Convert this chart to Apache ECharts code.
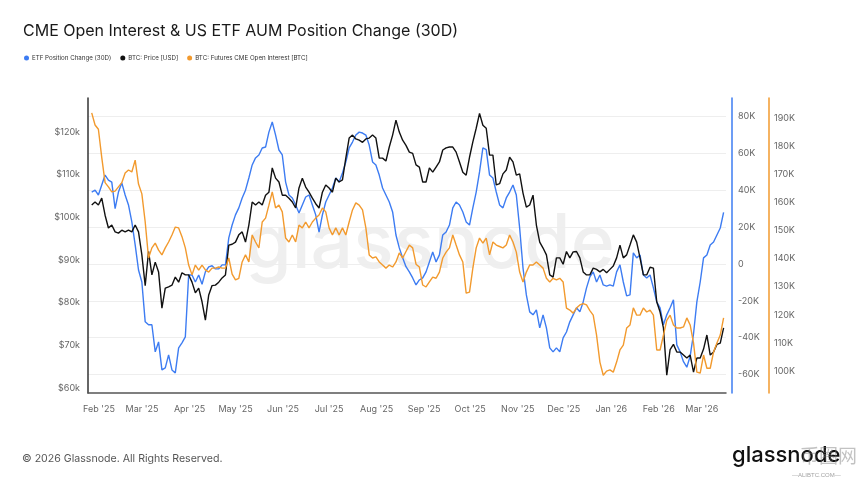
<!DOCTYPE html>
<html>
<head>
<meta charset="utf-8">
<title>CME Open Interest & US ETF AUM Position Change (30D)</title>
<script src="https://cdn.jsdelivr.net/npm/echarts@6.0.0/dist/echarts.min.js"></script>
<style>
  html, body { margin: 0; padding: 0; background: #fff; }
  #chart { width: 860px; height: 484px; }
</style>
</head>
<body>
<div id="chart"></div>
<script>
var dom = document.getElementById("chart");
var myChart = echarts.init(dom);

// samples on an even grid, ~2.18 days apart
var sampleStart = Date.UTC(2025, 0, 27, 5);
var sampleStepDays = 2.18;

// ETF position change (30D), thousand BTC
var etfChange = [
  39, 40, 37.4, 42.8, 48.2, 45.5, 44.4, 30, 39, 44,
  37.4, 32, 22.8, 10.3, -3.3, -9.8, -31.4, -33, -33, -47.7,
  -42.3, -57.5, -56.4, -49.3, -57.5, -59.1, -45.5, -42.8, -39.6, -6,
  -6, -9.8, -6, -11, -4.3, -1.6, -1, -2.7, -2.7, -0.5,
  -0.5, 14.1, 21.1, 26.6, 30.4, 35.8, 40, 46.6, 53.7, 57.5,
  59.1, 62.9, 63.4, 71.5, 77, 69.9, 61.8, 59.1, 44.4, 37.4,
  35.8, 32, 27.6, 32, 36.3, 37.4, 32, 26.6, 17.3, 26.6,
  33.6, 37.4, 41.2, 46.6, 44.4, 49.3, 55.3, 62.9, 66.1, 69.9,
  71.5, 71, 69.9, 64.5, 55.3, 53.7, 48.2, 41.2, 37.4, 33.6,
  28.2, 15.7, 8.7, 3.3, -1.5, -4.3, -7.6, -11.4, -8.7, -7.6,
  -4.3, 1.1, 6.5, 1.1, 4.9, 15.7, 17.3, 21.1, 30.4, 33.6,
  32, 28.2, 22.8, 21.1, 30.4, 39, 49.9, 62.9, 62, 48.2,
  46.6, 39, 32, 30.4, 35.8, 39, 42.8, 37.4, 19.5, -2.2,
  -16.8, -26, -27.6, -24.9, -34.7, -27.6, -34.7, -45.5, -47.7, -45.5,
  -47.7, -40.1, -36.9, -31.4, -27.6, -23.8, -26, -20.6, -13, -7,
  -4.3, -9.8, -6, -11.4, -12, -11.4, -12, -4.3, -0.5, -9.8,
  -17.3, -16.8, 6, 3.3, 4.9, -6, -7.6, -6, -13, -20.6,
  -23.8, -33, -27.6, -23.8, -19.5, -43.9, -47.7, -53, -56, -50,
  -38, -20.6, -9.8, 3.3, 4.9, 10.3, 11.9, 15.7, 19.5, 28
];

// BTC price, thousand USD
var btcPrice = [
  102.9, 103.6, 102.9, 104.5, 100.5, 97.5, 98.2, 96.6, 96.3, 97,
  96.6, 97, 96.6, 98.2, 96.6, 91.2, 84, 92, 86.5, 89.5,
  87.2, 78.7, 83.4, 83.7, 84.1, 86, 84.8, 87, 86.5, 86.5,
  84.8, 82.3, 83.4, 80.2, 75.9, 81.8, 84, 84.1, 84.8, 85.8,
  86.5, 93.5, 93.7, 94.2, 95.9, 96.6, 94.2, 98.2, 103.6, 102.9,
  103.6, 102.9, 105.2, 105.9, 111.6, 109.2, 108.3, 105.2, 105.2, 104.5,
  103.6, 102.2, 106.9, 109.2, 107.1, 105.9, 104.5, 103.2, 102.2, 105.9,
  107.6, 106.9, 105.9, 109.2, 108.3, 108.8, 113.9, 118.6, 119.3, 118.4,
  118.1, 117.6, 118.4, 118.6, 119.3, 118.6, 113.9, 113.9, 113.2, 116.5,
  119.3, 122.8, 120, 118.1, 116.9, 115.3, 115, 112.3, 111.8, 108.3,
  108.3, 111.6, 110.6, 111.8, 113, 115.8, 116.3, 116.5, 116.5, 115.3,
  113, 110.6, 109.9, 114.1, 117.7, 120.9, 124.4, 121.6, 120.9, 114.6,
  114.6, 107.6, 107.9, 110.2, 111.1, 114.1, 113, 109.9, 110.2, 105.7,
  102.4, 102.9, 105.2, 98.2, 94.2, 92.8, 91.2, 86.5, 86, 90.5,
  90.5, 89, 92, 90.5, 91.9, 92, 90.5, 87.2, 86.5, 86.5,
  88.1, 87.8, 87.2, 87.8, 87, 87.8, 88.6, 90.5, 93.5, 90.5,
  91.2, 93.5, 95.9, 94.2, 90.5, 86.5, 86.5, 88.3, 88.1, 80.2,
  77.8, 74.1, 63, 69, 70.2, 68.4, 68.4, 67.7, 67, 67.7,
  63.7, 67, 67, 69.1, 72.4, 67.7, 68.4, 70.2, 70.5, 74.1
];

// CME futures open interest, thousand BTC
var cmeOI = [
  191.8, 187.5, 186, 176, 167, 165.5, 163.7, 164, 165.5, 167,
  170.4, 171.5, 170.8, 175, 166.5, 163, 153, 140.2, 143.8, 145.5,
  143, 141.3, 143.8, 145.9, 148.4, 151.2, 150.9, 147.8, 143.8, 137.7,
  134.2, 137.7, 135.9, 137.7, 136, 135.2, 136.6, 136.6, 137, 136.6,
  136.6, 140.2, 134.5, 132.4, 133, 138.8, 141.3, 138.8, 148.4, 145.9,
  143.8, 153, 154.4, 159, 163.7, 158, 159, 156.6, 147.3, 145.9,
  148.4, 145.9, 151.9, 150.9, 153, 150.9, 153, 154.4, 155.5, 158,
  156.6, 150.9, 148.4, 150.9, 148.4, 150.9, 148.4, 153, 157.3, 159.8,
  159, 157.3, 150.9, 141.3, 140.2, 140.6, 138.8, 137.7, 136.6, 137.7,
  137, 138.8, 142, 140.2, 142.5, 144.8, 143.8, 138, 137, 130.6,
  129.9, 131.7, 133.4, 133, 135.2, 140.2, 142.3, 143.8, 148.4, 144.8,
  141.3, 138.8, 127.7, 128.1, 136.6, 143.8, 147.3, 145.5, 147.3, 141.3,
  145.9, 144.8, 144.3, 143.8, 144.8, 148.4, 145.9, 142.3, 135.2, 131.7,
  135.2, 137.7, 137.7, 138.8, 137.7, 136.6, 133, 131.7, 133, 132.4,
  133, 131.7, 122.4, 121.7, 120.6, 122.4, 123.5, 124, 123.5, 121.5,
  119.9, 112.8, 103.2, 98.5, 100, 100.4, 99.6, 103.2, 107.5, 109.2,
  115.3, 116.4, 122.5, 119.9, 119.9, 122.4, 121, 121.7, 119.9, 107.5,
  107.5, 112.8, 118, 119.9, 116.4, 115.3, 115.3, 115.7, 118.9, 116.4,
  110, 99.6, 99.3, 105.7, 101, 101, 106.8, 110, 112.8, 118.9
];

var monthTicks = ['2025-02-01', '2025-03-01', '2025-04-01', '2025-05-01', '2025-06-01', '2025-07-01',
  '2025-08-01', '2025-09-01', '2025-10-01', '2025-11-01', '2025-12-01', '2026-01-01',
  '2026-02-01', '2026-03-01'];
var monthNames = ['Jan', 'Feb', 'Mar', 'Apr', 'May', 'Jun', 'Jul', 'Aug', 'Sep', 'Oct', 'Nov', 'Dec'];
var priceTicks = [60, 70, 80, 90, 100, 110, 120];
var etfTicks = [-60, -40, -20, 0, 20, 40, 60, 80];
var oiTicks = [100, 110, 120, 130, 140, 150, 160, 170, 180, 190];

var names = ['ETF Position Change (30D)', 'BTC: Price [USD]', 'BTC: Futures CME Open Interest [BTC]'];
var colors = ['#3d7cf2', '#111111', '#f29a2e'];

function toPairs(arr) {
  return arr.map(function (v, i) {
    return [sampleStart + i * sampleStepDays * 86400000, v];
  });
}

var labelColor = '#666';
var labelFont = 'Inter, "Liberation Sans", sans-serif';

option = {
  animation: false,
  backgroundColor: '#fff',
  title: {
    text: 'CME Open Interest & US ETF AUM Position Change (30D)',
    left: 18,
    top: 18,
    textStyle: { fontSize: 16, fontWeight: 'normal', color: '#1a1a1a', fontFamily: labelFont }
  },
  legend: {
    left: 19,
    top: 50,
    icon: 'circle',
    itemWidth: 5,
    itemHeight: 5,
    itemGap: 9,
    data: names,
    textStyle: { fontSize: 6.2, color: '#333', fontFamily: labelFont, padding: [0, 0, 0, -2] }
  },
  grid: { left: 88, right: 134, top: 98, bottom: 91 },
  xAxis: {
    // timestamps on a plain value axis, labels only at month starts
    type: 'value',
    min: Date.UTC(2025, 0, 24, 19),
    max: Date.UTC(2026, 2, 16, 19),
    axisLine: { onZero: false, lineStyle: { color: '#555', width: 1.5 } },
    axisTick: { show: false },
    splitLine: { show: false },
    axisLabel: {
      customValues: monthTicks.map(function (d) { return Date.parse(d + 'T00:00:00Z'); }),
      color: labelColor,
      fontSize: 9,
      margin: 12,
      fontFamily: labelFont,
      formatter: function (v) {
        var d = new Date(v);
        return monthNames[d.getUTCMonth()] + " '" + String(d.getUTCFullYear()).slice(2);
      }
    }
  },
  yAxis: [
    {
      type: 'value',
      position: 'left',
      min: 58.8,
      max: 128,
      axisLine: { show: true, onZero: false, lineStyle: { color: '#333', width: 1.5 } },
      axisTick: { show: false },
      splitLine: { show: false },
      axisLabel: {
        customValues: priceTicks,
        color: labelColor, fontSize: 9, margin: 8, fontFamily: labelFont,
        formatter: function (v) { return '$' + v + 'k'; }
      }
    },
    {
      type: 'value',
      position: 'right',
      offset: 6,
      min: -70,
      max: 90,
      axisLine: { show: true, onZero: false, lineStyle: { color: colors[0], width: 1.5 } },
      axisTick: { show: false, customValues: etfTicks },
      splitLine: { show: true, lineStyle: { color: '#eeeeee', width: 1 } },
      axisLabel: {
        customValues: etfTicks,
        color: labelColor, fontSize: 9, margin: 6, fontFamily: labelFont,
        formatter: function (v) { return v === 0 ? '0' : v + 'K'; }
      }
    },
    {
      type: 'value',
      position: 'right',
      offset: 43,
      min: 92.2,
      max: 197.1,
      axisLine: { show: true, onZero: false, lineStyle: { color: colors[2], width: 1.5 } },
      axisTick: { show: false },
      splitLine: { show: false },
      axisLabel: {
        customValues: oiTicks,
        color: labelColor, fontSize: 9, margin: 5, fontFamily: labelFont,
        formatter: function (v) { return v + 'K'; }
      }
    }
  ],
  graphic: [
    {
      type: 'text', left: 'center', top: 208, z: 0, silent: true,
      style: { text: 'glassnode', fill: '#efefef', font: '500 75px Inter, "Liberation Sans", sans-serif' }
    },
    {
      type: 'text', left: 22, top: 453, silent: true,
      style: { text: '\u00a9 2026 Glassnode. All Rights Reserved.', fill: '#555', font: '10.6px Inter, "Liberation Sans", sans-serif' }
    },
    {
      type: 'text', left: 732, top: 444, silent: true,
      style: { text: 'glassnode', fill: '#111', font: '500 22px Inter, "Liberation Sans", sans-serif' }
    },
    {
      type: 'text', left: 800, top: 446, silent: true,
      style: { text: '币圈网', fill: 'rgba(120,120,120,0.45)', font: '19px "Noto Sans CJK SC", sans-serif' }
    },
    {
      type: 'text', left: 792, top: 472, silent: true,
      style: { text: '\u2014ALIBTC.COM\u2014', fill: 'rgba(120,120,120,0.7)', font: '6px "Liberation Sans", sans-serif' }
    }
  ],
  series: [
    {
      name: names[0], type: 'line', yAxisIndex: 1, showSymbol: false,
      color: colors[0], lineStyle: { width: 1.4 }, data: toPairs(etfChange)
    },
    {
      name: names[1], type: 'line', yAxisIndex: 0, showSymbol: false,
      color: colors[1], lineStyle: { width: 1.4 }, data: toPairs(btcPrice)
    },
    {
      name: names[2], type: 'line', yAxisIndex: 2, showSymbol: false,
      color: colors[2], lineStyle: { width: 1.4 }, data: toPairs(cmeOI)
    }
  ]
};

myChart.setOption(option);
</script>
</body>
</html>
